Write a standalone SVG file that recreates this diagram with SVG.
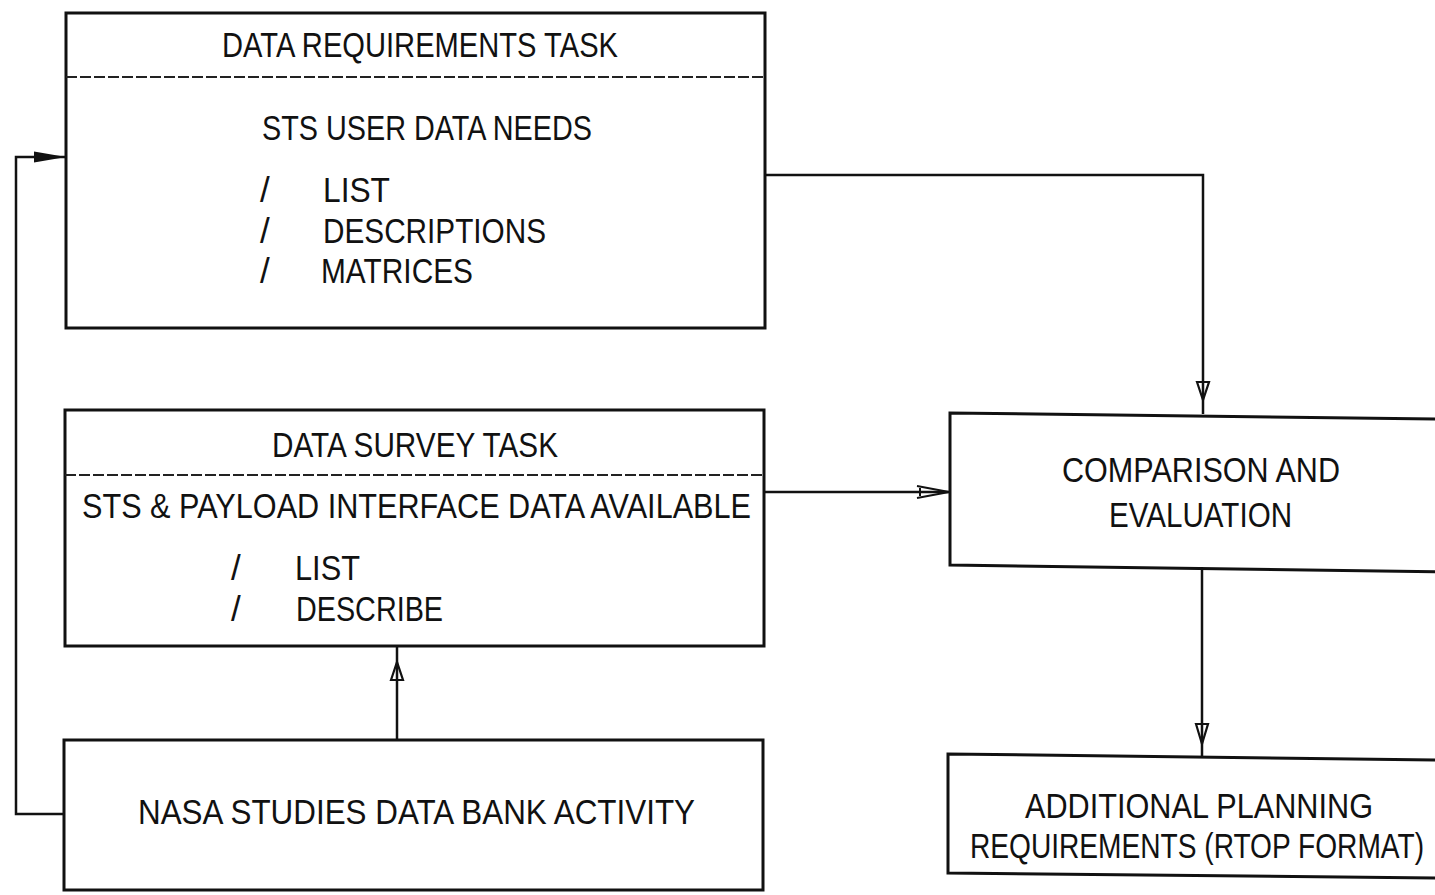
<svg xmlns="http://www.w3.org/2000/svg" width="1435" height="895" viewBox="0 0 1435 895">
  <style>
    .box { fill: none; stroke: #111; stroke-width: 3; }
    .div { fill: none; stroke: #222; stroke-width: 2; stroke-dasharray: 11 3; }
    .wire { fill: none; stroke: #111; stroke-width: 2.5; }
    .head { fill: none; stroke: #111; stroke-width: 2.2; stroke-linejoin: miter; }
    text { font-family: "Liberation Sans", Arial, sans-serif; font-size: 35px; fill: #111; }
  </style>
  <defs>
    <marker id="solid" viewBox="0 0 32 14" refX="32" refY="7" markerWidth="32" markerHeight="14" markerUnits="userSpaceOnUse" orient="auto">
      <path d="M0,1.5 L32,7 L0,12.5 Z" fill="#111"/>
    </marker>
    <marker id="open" viewBox="0 0 34 14" refX="33" refY="7" markerWidth="34" markerHeight="14" markerUnits="userSpaceOnUse" orient="auto">
      <path d="M1,1 L33,7 L1,13 M4,3 L4,11" fill="none" stroke="#111" stroke-width="2"/>
    </marker>
  </defs>

  <!-- connectors -->
  <g id="connectors">
    <path class="wire" d="M64,814 H16 V157 H66" marker-end="url(#solid)"/>
    <path class="wire" d="M765,175 H1203 V414"/>
    <path class="head" d="M1197,382 L1203,400 L1209,382 Z"/>
    <path class="wire" d="M764,492 H949" marker-end="url(#open)"/>
    <path class="wire" d="M397,740 V647"/>
    <path class="head" d="M391,680 L397,662 L403,680 Z"/>
    <path class="wire" d="M1202,567 V756"/>
    <path class="head" d="M1196,724 L1202,744 L1208,724 Z"/>
  </g>

  <g id="data-requirements-task">
    <rect class="box" x="66" y="13" width="699" height="315"/>
    <line class="div" x1="66" y1="77" x2="765" y2="77"/>
    <text x="222" y="57" textLength="396" lengthAdjust="spacingAndGlyphs">DATA REQUIREMENTS TASK</text>
    <text x="262" y="140" textLength="330" lengthAdjust="spacingAndGlyphs">STS USER DATA NEEDS</text>
    <text x="260" y="202">/</text>
    <text x="323" y="202" textLength="67" lengthAdjust="spacingAndGlyphs">LIST</text>
    <text x="260" y="243">/</text>
    <text x="323" y="243" textLength="223" lengthAdjust="spacingAndGlyphs">DESCRIPTIONS</text>
    <text x="260" y="283">/</text>
    <text x="321" y="283" textLength="152" lengthAdjust="spacingAndGlyphs">MATRICES</text>
  </g>

  <g id="data-survey-task">
    <rect class="box" x="65" y="410" width="699" height="236"/>
    <line class="div" x1="65" y1="475" x2="764" y2="475"/>
    <text x="272" y="457" textLength="286" lengthAdjust="spacingAndGlyphs">DATA SURVEY TASK</text>
    <text x="82" y="518" textLength="669" lengthAdjust="spacingAndGlyphs">STS &amp; PAYLOAD INTERFACE DATA AVAILABLE</text>
    <text x="231" y="580">/</text>
    <text x="295" y="580" textLength="65" lengthAdjust="spacingAndGlyphs">LIST</text>
    <text x="231" y="621">/</text>
    <text x="296" y="621" textLength="147" lengthAdjust="spacingAndGlyphs">DESCRIBE</text>
  </g>

  <g id="nasa-studies">
    <rect class="box" x="64" y="740" width="699" height="150"/>
    <text x="138" y="824" textLength="557" lengthAdjust="spacingAndGlyphs">NASA STUDIES DATA BANK ACTIVITY</text>
  </g>

  <g id="comparison">
    <path class="box" d="M1445,419 L950,413 L950,565 L1445,572"/>
    <text x="1062" y="482" textLength="278" lengthAdjust="spacingAndGlyphs">COMPARISON AND</text>
    <text x="1109" y="527" textLength="183" lengthAdjust="spacingAndGlyphs">EVALUATION</text>
  </g>

  <g id="additional-planning">
    <path class="box" d="M1445,760 L948,754 L948,873 L1445,878"/>
    <text x="1025" y="818" textLength="348" lengthAdjust="spacingAndGlyphs">ADDITIONAL PLANNING</text>
    <text x="970" y="858" textLength="454" lengthAdjust="spacingAndGlyphs">REQUIREMENTS (RTOP FORMAT)</text>
  </g>
</svg>
